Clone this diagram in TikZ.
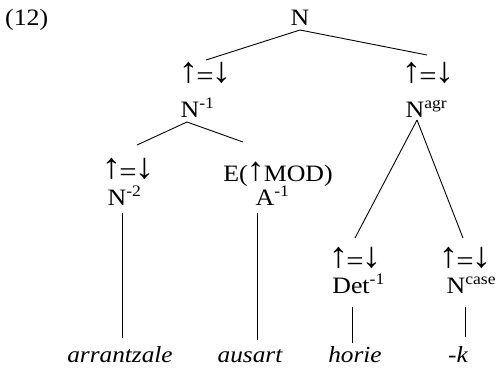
\documentclass[tikz,border=0pt]{standalone}
\usepackage{fontspec}
\setmainfont[FakeStretch=1.1]{Liberation Serif}
\begin{document}
\begin{tikzpicture}[x=1pt,y=-1pt,
  lab/.style={inner sep=0pt,anchor=base,font=\fontsize{23.5}{26}\selectfont},
  wrd/.style={lab,font=\fontsize{23}{26}\selectfont\itshape},
  br/.style={line width=0.9pt}]
\useasboundingbox[fill=white] (0,0) rectangle (496,368);
\newcommand{\sups}[1]{\rlap{\raisebox{0.36em}{\fontsize{16}{18}\selectfont #1}}}
\newcommand{\ua}{{\fontsize{36}{36}\selectfont\raisebox{2.5pt}{↑}}}
\newcommand{\da}{{\fontsize{36}{36}\selectfont\raisebox{2.5pt}{↓}}}
\newcommand{\uain}{{\fontsize{33}{33}\selectfont\raisebox{0.5pt}{↑}}}
\newcommand{\eqa}{\ua\kern-2pt{\fontsize{28}{28}\selectfont=}\kern-2pt\da}
\node[lab,anchor=base west] (ex) at (5,25) {(12)};
\node[lab] (n0) at (300,25) {N};
\node[lab] (a1) at (205,85) {\eqa};
\node[lab] (a2) at (428,85) {\eqa};
\node[lab] (n1) at (190,117) {N\sups{-1}};
\node[lab] (nagr) at (415,117) {N\sups{agr}};
\node[lab] (a3) at (128,181) {\eqa};
\node[lab] (e) at (278,181) {E(\kern-1pt\uain\kern-1pt MOD)};
\node[lab] (n2) at (117,205) {N\sups{-2}};
\node[lab] (am1) at (265,205) {A\sups{-1}};
\node[lab] (a4) at (355,270) {\eqa};
\node[lab] (a5) at (465,270) {\eqa};
\node[lab] (det) at (351,293) {Det\sups{-1}};
\node[lab] (ncase) at (456,293) {N\sups{case}};
\node[wrd] (w1) at (120,362) {arrantzale};
\node[wrd] (w2) at (250,362) {ausart};
\node[wrd] (w3) at (355,362) {horie};
\node[wrd] (w4) at (458,362) {-k};
\draw[br] ([yshift=-5pt]n0.base) -- ([xshift=1pt,yshift=25pt]a1.base);
\draw[br] ([yshift=-5pt]n0.base) -- ([xshift=-1pt,yshift=30pt]a2.base);
\draw[br] ([xshift=-3pt,yshift=-5pt]n1.base) -- ([xshift=9pt,yshift=36pt]a3.base);
\draw[br] ([xshift=-3pt,yshift=-5pt]n1.base) -- ([xshift=-35pt,yshift=39pt]e.base);
\draw[br] ([xshift=2pt,yshift=-3pt]nagr.base) -- ([yshift=32pt]a4.base);
\draw[br] ([xshift=2pt,yshift=-3pt]nagr.base) -- ([xshift=-2pt,yshift=32pt]a5.base);
\draw[br] ([xshift=5pt,yshift=-8pt]n2.base) -- ([xshift=2pt,yshift=24pt]w1.base);
\draw[br] ([xshift=-8pt,yshift=-8pt]am1.base) -- ([xshift=7pt,yshift=22pt]w2.base);
\draw[br] ([xshift=1pt,yshift=-14pt]det.base) -- ([xshift=-3pt,yshift=19pt]w3.base);
\draw[br] ([xshift=9pt,yshift=-14pt]ncase.base) -- ([xshift=7pt,yshift=25pt]w4.base);
\end{tikzpicture}
\end{document}
